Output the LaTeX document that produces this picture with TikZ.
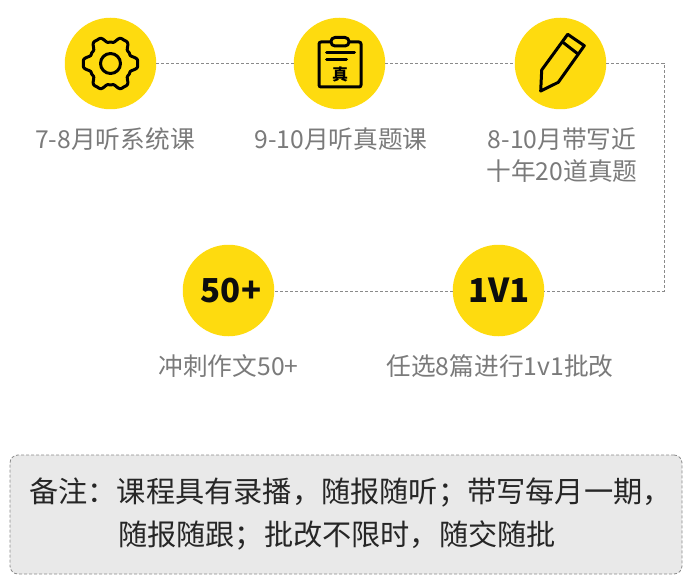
\documentclass[tikz,border=0pt]{standalone}
\usepackage{fontspec}
\setmainfont{Noto Sans CJK SC}
\definecolor{ylw}{HTML}{FEDB0F}
\definecolor{lbl}{HTML}{7A7A7A}
\definecolor{conn}{HTML}{8A8A8A}
\definecolor{boxfill}{HTML}{E9E9E9}
\tikzset{
  disc/.style={circle,fill=ylw,minimum size=91.5pt,inner sep=0pt,font=\fontsize{33}{33}\bfseries\selectfont,text=black!95},
  lab/.style={text=lbl,font=\fontsize{24.7}{32}\selectfont,align=center,inner sep=0pt},
  link/.style={conn,line width=0.9pt,dash pattern=on 3pt off 2pt},
  icon/.style={black,line width=3pt,line join=round,line cap=round},
}
\begin{document}
\begin{tikzpicture}[x=1pt,y=-1pt]
\useasboundingbox (0,0) rectangle (691,583);
\node[disc] (a) at (110.5,63.5) {};
\node[disc] (b) at (339.5,63.5) {};
\node[disc] (c) at (560.5,63.5) {};
\node[disc] (d) at (228.5,290.5) {\hspace*{5pt}50+};
\node[disc] (e) at (498.5,290.5) {\hspace*{1pt}1V1};
\coordinate (k1) at (664,63);
\coordinate (k2) at (664,291);
\draw[link] (a.east |- k1) -- (b.west |- k1);
\draw[link] (b.east |- k1) -- (c.west |- k1);
\draw[link] (c.east |- k1) -- (k1) -- (k2) -- (e.east |- k2);
\draw[link] (e.west |- k2) -- (d.east |- k2);
% gear
\draw[icon,shift={(110.5,63.5)}] plot[domain=0:358,samples=180,smooth] ({(24.25+3.45*cos(6*\x)-0.7*cos(18*\x))*cos(\x)},{(24.25+3.45*cos(6*\x)-0.7*cos(18*\x))*sin(\x)}) -- cycle;
\draw[icon,shift={(110.5,63.5)}] (0,0) circle (10);
% clipboard
\draw[icon,rounded corners=2pt] (319,42) rectangle (361,87);
\draw[icon,fill=ylw,rounded corners=4pt] (331,37.5) rectangle (349,46);
\draw[icon] (326.5,52.5) -- (354.5,52.5);
\draw[icon] (326.5,60) -- (346.5,60);
\node[inner sep=0pt,font=\fontsize{16}{16}\bfseries\selectfont,text=black] (zhen) at (340,74) {真};
% pencil
\draw[icon] (540.7,91) -- (541.7,70) -- (567.7,34.3) -- (584.3,45.7) -- (558.3,82.3) -- cycle;
\draw[icon] (562.5,42) -- (578,54);
% labels
\node[lab] (la) at (115,139) {7-8月听系统课};
\node[lab] (lb) at (341,139) {9-10月听真题课};
\node[lab] (lc) at (562,155) {8-10月带写近\\十年20道真题};
\node[lab] (ld) at (228.5,366) {冲刺作文50+};
\node[lab] (le) at (500,366) {任选8篇进行1v1批改};
% note
\node[draw=conn,fill=boxfill,line width=0.8pt,dash pattern=on 3pt off 2pt,rounded corners=8pt,minimum width=672pt,minimum height=119pt,inner sep=0pt] (note) at (346,514.5) {};
\node[inner sep=0pt,text=black!85,font=\fontsize{29.2}{42.5}\selectfont,align=center] (notetext) at (350.5,514.2)
  {备注：课程具有录播，随报随听；带写每月一期，\\随报随跟；批改不限时，随交随批\hspace*{27pt}};
\end{tikzpicture}
\end{document}
